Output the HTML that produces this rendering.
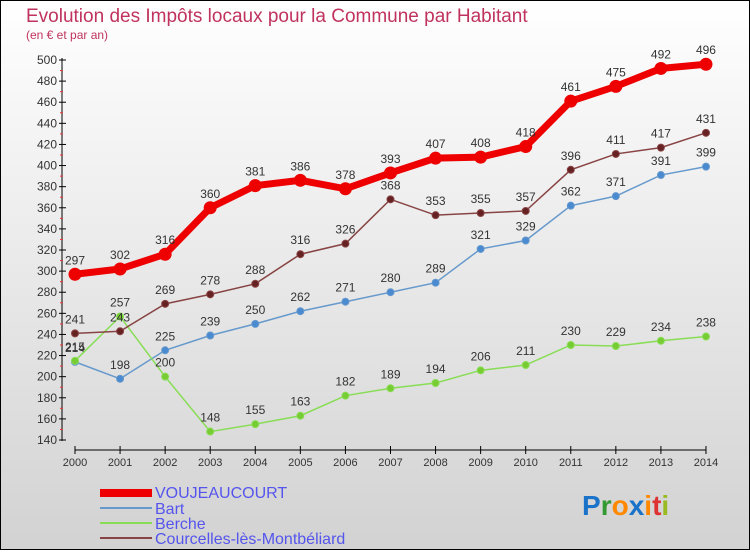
<!DOCTYPE html>
<html><head><meta charset="utf-8"><style>
body{margin:0;width:750px;height:550px;overflow:hidden;font-family:"Liberation Sans",sans-serif}
</style></head><body>
<svg id="chart" width="750" height="550" xmlns="http://www.w3.org/2000/svg">
<defs><linearGradient id="bg" x1="0" y1="0" x2="0" y2="1"><stop offset="0" stop-color="#ffffff"/><stop offset="1" stop-color="#d2d2d2"/></linearGradient></defs>
<rect x="0.5" y="0.5" width="749" height="549" fill="url(#bg)" stroke="#000" stroke-width="1"/>
<text x="26" y="22" font-size="19" fill="#c0335f">Evolution des Impôts locaux pour la Commune par Habitant</text>
<text x="26" y="39" font-size="12" fill="#c0335f">(en € et par an)</text>
<g id="axes"></g><g id="series"></g>
<g font-size="16" fill="#5555ee">
<rect x="100" y="489" width="52" height="8" fill="#e00"/>
<text x="155" y="498">VOUJEAUCOURT</text>
<rect x="100" y="507" width="52" height="2" fill="#6699cc"/>
<text x="155" y="514">Bart</text>
<rect x="100" y="522" width="52" height="2" fill="#88dd55"/>
<text x="155" y="529">Berche</text>
<rect x="100" y="537" width="52" height="2" fill="#884444"/>
<text x="155" y="544">Courcelles-lès-Montbéliard</text>
</g>
<g font-size="28" font-weight="bold">
<text x="582" y="515"><tspan fill="#1b73c9">P</tspan><tspan fill="#339933">r</tspan><tspan fill="#ff8800">o</tspan><tspan fill="#1b73c9">x</tspan><tspan fill="#ff8800">i</tspan><tspan fill="#dd3333">t</tspan><tspan fill="#99bb22">i</tspan></text>
</g>
</svg>
<script>
const years=[2000,2001,2002,2003,2004,2005,2006,2007,2008,2009,2010,2011,2012,2013,2014];
const voujeaucourt=[297,302,316,360,381,386,378,393,407,408,418,461,475,492,496];
const bart=[214,198,225,239,250,262,271,280,289,321,329,362,371,391,399];
const berche=[215,257,200,148,155,163,182,189,194,206,211,230,229,234,238];
const courcelles=[241,243,269,278,288,316,326,368,353,355,357,396,411,417,431];
const yTicks=[140,160,180,200,220,240,260,280,300,320,340,360,380,400,420,440,460,480,500];
const NS="http://www.w3.org/2000/svg";
const x=i=>75+i*45.07;
const y=v=>440-(v-140)*(380/360);
function mk(t,a,p){const e=document.createElementNS(NS,t);for(const k in a)e.setAttribute(k,a[k]);p.appendChild(e);return e;}
const ax=document.getElementById('axes');
mk('line',{x1:62,y1:58,x2:62,y2:441,stroke:'#000','stroke-width':1},ax);
mk('line',{x1:75,y1:450,x2:706,y2:450,stroke:'#000','stroke-width':1},ax);
yTicks.forEach((v,k)=>{
 const l=mk('line',{x1:59,x2:66,y1:y(v),y2:y(v),stroke:'#000'},ax);
 
 
 if(k<yTicks.length-1){
  const m=mk('line',{x1:60,x2:63,y1:y(v+10),y2:y(v+10),stroke:'#e33'},ax);
  
  
 }
 const t=mk('text',{x:57,y:y(v)+4,'text-anchor':'end','font-size':12,fill:'#333'},ax);t.textContent=v;
 
 
});
years.forEach((yr,i)=>{
 const l=mk('line',{x1:x(i),x2:x(i),y1:446,y2:454,stroke:'#000'},ax);
 
 
 const t=mk('text',{x:x(i),y:466,'text-anchor':'middle','font-size':11,fill:'#333'},ax);t.textContent=yr;
 
 
});
const sg=document.getElementById('series');
function series(name,data,color,dot,w,r){
 const g=mk('g',{},sg);
 
 
 const p=mk('polyline',{points:data.map((v,i)=>x(i)+','+y(v)).join(' '),fill:'none',stroke:color,'stroke-width':w},g);
 
 
 data.forEach((v,i)=>{
  const c=mk('circle',{cx:x(i),cy:y(v),r:r,fill:dot,stroke:color,'stroke-width':1},g);
  
  
  const t=mk('text',{x:x(i),y:y(v)-10,'text-anchor':'middle','font-size':12,fill:'#333'},g);t.textContent=v;
  
  
 });
}
series('bart',bart,'#6699cc','#4a8ad0',1.5,3.5);
series('berche',berche,'#88dd55','#77cc33',1.5,3.5);
series('courcelles',courcelles,'#884444','#662222',1.5,3.5);
series('voujeaucourt',voujeaucourt,'#ee0000','#ee0000',7,6);
</script>
</body></html>
